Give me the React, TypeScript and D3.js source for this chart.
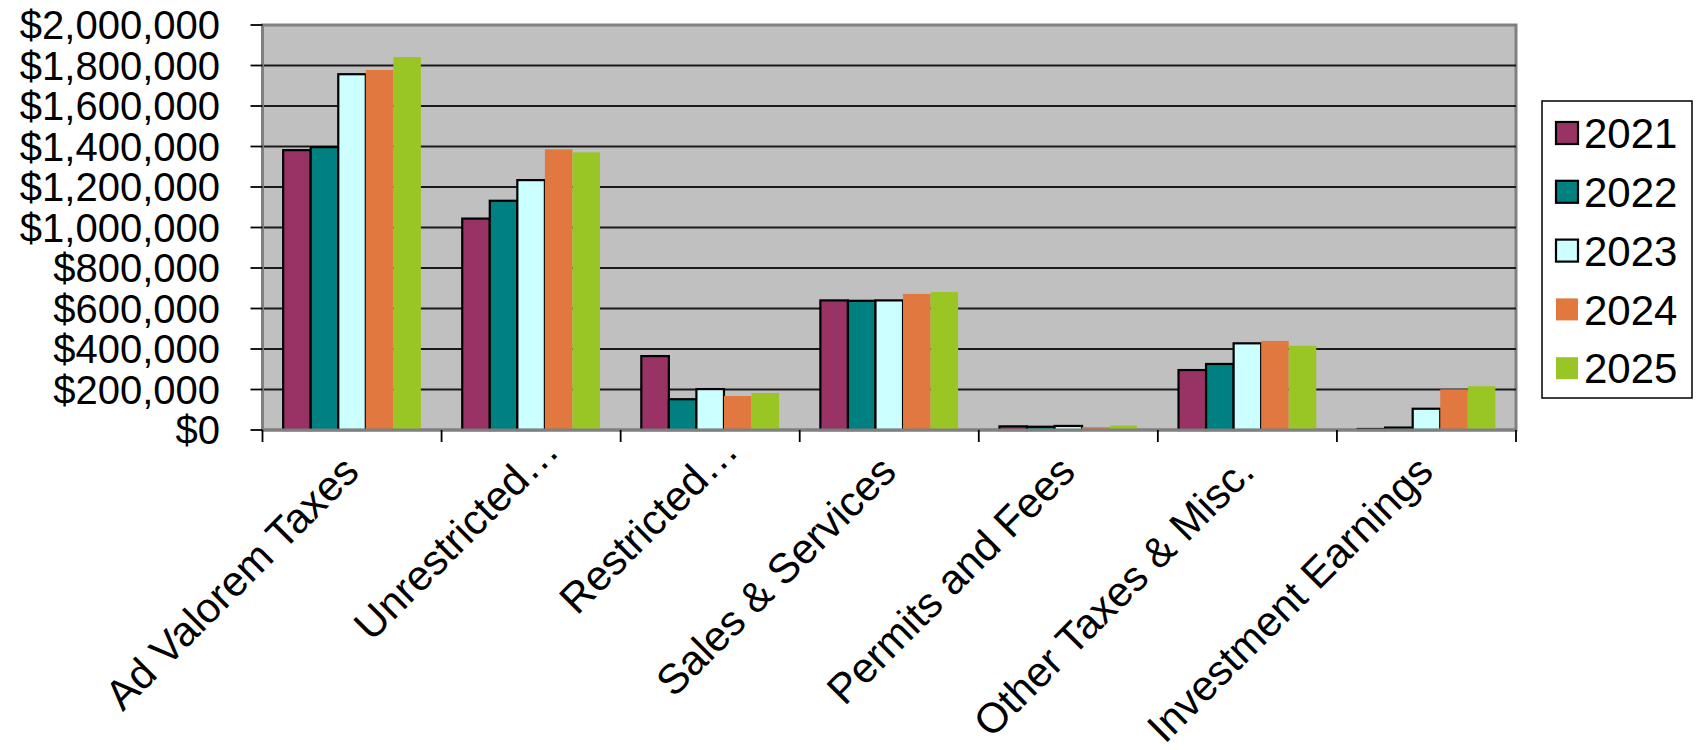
import React from "react";
import * as d3 from "d3";

const categories = [
  "Ad Valorem Taxes",
  "Unrestricted…",
  "Restricted…",
  "Sales & Services",
  "Permits and Fees",
  "Other Taxes & Misc.",
  "Investment Earnings",
];

const years = ["2021", "2022", "2023", "2024", "2025"];

const values2021 = [1382000, 1044000, 365000, 640000, 18000, 296000, 5000];
const values2022 = [1397000, 1132000, 152000, 638000, 16000, 326000, 12000];
const values2023 = [1757000, 1234000, 202000, 640000, 20000, 428000, 105000];
const values2024 = [1778000, 1386000, 168000, 672000, 14000, 440000, 201000];
const values2025 = [1842000, 1371000, 183000, 681000, 22000, 416000, 216000];

const yTicks = [0, 200000, 400000, 600000, 800000, 1000000, 1200000, 1400000, 1600000, 1800000, 2000000];

const seriesValues = [values2021, values2022, values2023, values2024, values2025];
const seriesColors = ["#993366", "#008080", "#CCFFFF", "#E07840", "#99C624"];
const seriesOutlined = [true, true, true, false, false];

const W = 1696;
const H = 750;
const plot = { left: 262.5, right: 1516, top: 25, bottom: 430 };
const FONT = "'Liberation Sans', Arial, sans-serif";

export default function App() {
  const x = d3
    .scaleBand<string>()
    .domain(categories)
    .range([plot.left, plot.right])
    .paddingInner(0)
    .paddingOuter(0);
  const cw = x.bandwidth();
  // Excel-style gap width of 150%: five bars plus 1.5 bar widths of gap per category
  const barW = cw / (years.length + 1.5);
  const inner = d3
    .scaleBand<string>()
    .domain(years)
    .range([barW * 0.75, barW * 0.75 + barW * years.length]);
  const y = d3.scaleLinear().domain([0, 2000000]).range([plot.bottom, plot.top]);
  const fmt = d3.format("$,");

  const catTicks = [...categories.map((c) => x(c) as number), plot.right];

  return (
    <svg
      width={W}
      height={H}
      style={{ position: "absolute", left: 0, top: 0, background: "#fff" }}
      fontFamily={FONT}
    >
      <rect x={0} y={0} width={W} height={H} fill="#fff" />
      {/* plot area */}
      <rect
        x={plot.left}
        y={plot.top}
        width={plot.right - plot.left}
        height={plot.bottom - plot.top}
        fill="#C0C0C0"
        stroke="#808080"
        strokeWidth={3}
      />
      {/* gridlines */}
      {yTicks.slice(1, -1).map((t) => (
        <line
          key={"g" + t}
          x1={plot.left}
          x2={plot.right}
          y1={y(t)}
          y2={y(t)}
          stroke="#1a1a1a"
          strokeWidth={1.8}
        />
      ))}
      {/* bars */}
      {years.map((yr, si) => (
        <g key={yr}>
          {categories.map((c, ci) => {
            const v = seriesValues[si][ci];
            const bx = (x(c) as number) + (inner(yr) as number);
            return (
              <rect
                key={c}
                x={bx}
                y={y(v)}
                width={inner.bandwidth()}
                height={y(0) - y(v)}
                fill={seriesColors[si]}
                stroke={seriesOutlined[si] ? "#000" : "none"}
                strokeWidth={2.2}
              />
            );
          })}
        </g>
      ))}
      {/* axes */}
      <line x1={plot.left} x2={plot.left} y1={plot.top} y2={plot.bottom} stroke="#808080" strokeWidth={3} />
      <line x1={plot.left} x2={plot.right} y1={plot.bottom} y2={plot.bottom} stroke="#808080" strokeWidth={3} />
      {yTicks.map((t) => (
        <g key={"yt" + t}>
          <line x1={plot.left - 12} x2={plot.left} y1={y(t)} y2={y(t)} stroke="#000" strokeWidth={1.8} />
          <text
            x={220}
            y={y(t)}
            dy="0.36em"
            textAnchor="end"
            fontSize={40}
            fill="#000"
          >
            {fmt(t)}
          </text>
        </g>
      ))}
      {catTicks.map((tx, i) => (
        <line key={"xt" + i} x1={tx} x2={tx} y1={plot.bottom} y2={plot.bottom + 12} stroke="#000" strokeWidth={1.8} />
      ))}
      {categories.map((c) => {
        // truncated labels keep the width of their full text box, so they sit further along the slant
        const along = c.endsWith("…") ? 30 : 0;
        const cx = (x(c) as number) + cw / 2 + 9 + along * Math.SQRT1_2;
        const cy = 474 - along * Math.SQRT1_2;
        return (
          <text
            key={"xl" + c}
            transform={`translate(${cx},${cy}) rotate(-45)`}
            textAnchor="end"
            fontSize={42}
            fill="#000"
          >
            {c}
          </text>
        );
      })}
      {/* legend */}
      <rect x={1542} y={101} width={150} height={297} fill="#fff" stroke="#000" strokeWidth={1.5} />
      {years.map((yr, i) => {
        const cy = 133 + i * 58.8;
        return (
          <g key={"lg" + yr}>
            <rect
              x={1556}
              y={cy - 11}
              width={22}
              height={22}
              fill={seriesColors[i]}
              stroke={seriesOutlined[i] ? "#000" : "none"}
              strokeWidth={2.2}
            />
            <text x={1584} y={cy} dy="0.36em" fontSize={42} fill="#000">
              {yr}
            </text>
          </g>
        );
      })}
    </svg>
  );
}
